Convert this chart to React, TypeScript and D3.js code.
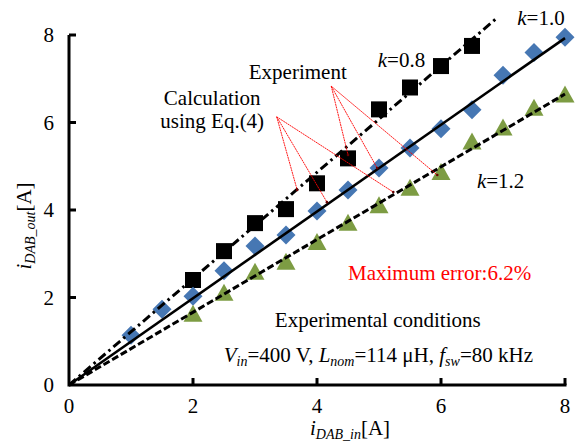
import React from "react";
import * as d3 from "d3";

// ---- data ----
const xTicks = [0, 2, 4, 6, 8];
const yTicks = [0, 2, 4, 6, 8];

const k08X = [2, 2.5, 3, 3.5, 4, 4.5, 5, 5.5, 6, 6.5];
const k08Exp = [2.4, 3.06, 3.7, 4.02, 4.61, 5.18, 6.3, 6.8, 7.29, 7.75];

const k10X = [1, 1.5, 2, 2.5, 3, 3.5, 4, 4.5, 5, 5.5, 6, 6.5, 7, 7.5, 8];
const k10Exp = [1.14, 1.73, 2.03, 2.61, 3.18, 3.43, 3.98, 4.46, 4.96, 5.42, 5.86, 6.29, 7.08, 7.6, 7.95];

const k12X = [2, 2.5, 3, 3.5, 4, 4.5, 5, 5.5, 6, 6.5, 7, 7.5, 8];
const k12Exp = [1.64, 2.12, 2.6, 2.83, 3.28, 3.72, 4.12, 4.52, 4.88, 5.58, 5.9, 6.35, 6.65];

// calculation lines (Eq.(4))
const k08CalcX = [0, 6.92];
const k08CalcY = [0, 8.41];
const k10CalcX = [0, 8];
const k10CalcY = [0, 7.93];
const k12CalcX = [0, 8];
const k12CalcY = [0, 6.65];

// annotation leader lines (data coordinates)
const calcOrigin = [3.35, 6.13];
const calcTargets = [[3.68, 4.46], [4.16, 4.18], [5.23, 4.41]];
const expOrigin = [4.23, 6.83];
const expTargets = [[4.5, 5.26], [4.97, 4.96], [5.94, 4.8]];

const W = 579;
const H = 444;
const left = 69, right = 565, top = 35, bottom = 385;

const FONT = "'Liberation Serif', 'Times New Roman', serif";
const BLUE = "#4677B3";
const GREEN = "#7D9C43";

export default function App() {
  const x = d3.scaleLinear().domain([0, 8]).range([left, right]);
  const y = d3.scaleLinear().domain([0, 8]).range([bottom, top]);
  const line = d3.line<[number, number]>().x(d => x(d[0])).y(d => y(d[1]));

  const zip = (xs: number[], ys: number[]) => xs.map((v, i) => [v, ys[i]] as [number, number]);

  const sq = 16;
  const dia = 9.5;
  const triW = 19, triH = 17;

  return (
    <svg width={W} height={H} style={{ position: "absolute", left: 0, top: 0 }} fontFamily={FONT}>
      <rect width={W} height={H} fill="#fff" />

      {/* markers */}
      {k08X.map((v, i) => (
        <rect key={"s" + i} x={x(v) - sq / 2} y={y(k08Exp[i]) - sq / 2} width={sq} height={sq} fill="#000" />
      ))}
      {k10X.map((v, i) => {
        const cx = x(v), cy = y(k10Exp[i]);
        return (
          <path key={"d" + i} d={`M${cx},${cy - dia}L${cx + dia},${cy}L${cx},${cy + dia}L${cx - dia},${cy}Z`} fill={BLUE} />
        );
      })}
      {k12X.map((v, i) => {
        const cx = x(v), cy = y(k12Exp[i]);
        return (
          <path key={"t" + i} d={`M${cx},${cy - triH / 2}L${cx + triW / 2},${cy + triH / 2}L${cx - triW / 2},${cy + triH / 2}Z`} fill={GREEN} />
        );
      })}

      {/* calculation lines */}
      <path d={line(zip(k08CalcX, k08CalcY)) || ""} stroke="#000" strokeWidth={3} fill="none" strokeDasharray="9,4,2.5,4" />
      <path d={line(zip(k10CalcX, k10CalcY)) || ""} stroke="#000" strokeWidth={2.6} fill="none" />
      <path d={line(zip(k12CalcX, k12CalcY)) || ""} stroke="#000" strokeWidth={3} fill="none" strokeDasharray="7,3" />

      {/* leader lines */}
      {calcTargets.map((t, i) => (
        <g key={"cl" + i}>
          <line x1={x(calcOrigin[0])} y1={y(calcOrigin[1])} x2={x(t[0])} y2={y(t[1])} stroke="#FF0000" strokeWidth={0.9} strokeDasharray="2,0.6" />
          <circle cx={x(t[0])} cy={y(t[1])} r={1.3} fill="#600" />
        </g>
      ))}
      {expTargets.map((t, i) => (
        <g key={"el" + i}>
          <line x1={x(expOrigin[0])} y1={y(expOrigin[1])} x2={x(t[0])} y2={y(t[1])} stroke="#FF0000" strokeWidth={0.9} strokeDasharray="2,0.6" />
          <circle cx={x(t[0])} cy={y(t[1])} r={1.3} fill="#600" />
        </g>
      ))}

      {/* axes */}
      <line x1={left} y1={bottom} x2={right + 1.5} y2={bottom} stroke="#000" strokeWidth={3} />
      <line x1={left} y1={bottom + 1.5} x2={left} y2={top} stroke="#000" strokeWidth={3} />
      {xTicks.filter(t => t > 0).map(t => (
        <line key={"xt" + t} x1={x(t)} x2={x(t)} y1={bottom} y2={bottom - 7} stroke="#000" strokeWidth={3} />
      ))}
      {yTicks.filter(t => t > 0).map(t => (
        <line key={"yt" + t} x1={left} x2={left + 7} y1={y(t)} y2={y(t)} stroke="#000" strokeWidth={3} />
      ))}
      {xTicks.map(t => (
        <text key={"xl" + t} x={x(t)} y={413} textAnchor="middle" fontSize={21} fill="#000">{t}</text>
      ))}
      {yTicks.map(t => (
        <text key={"yl" + t} x={54} y={y(t) + 7} textAnchor="end" fontSize={21} fill="#000">{t}</text>
      ))}

      {/* axis titles */}
      <text x={350} y={435} textAnchor="middle" fontSize={21} fill="#000">
        <tspan fontStyle="italic">i</tspan>
        <tspan fontStyle="italic" fontSize={14} dy={4}>DAB_in</tspan>
        <tspan dy={-4}>[A]</tspan>
      </text>
      <text transform="translate(31,226) rotate(-90)" textAnchor="middle" fontSize={21} fill="#000">
        <tspan fontStyle="italic">i</tspan>
        <tspan fontStyle="italic" fontSize={14} dy={4}>DAB_out</tspan>
        <tspan dy={-4}>[A]</tspan>
      </text>

      {/* annotations */}
      <text x={x(3.69)} y={y(6.99)} textAnchor="middle" fontSize={21}>Experiment</text>
      <text x={x(2.31)} y={y(6.4)} textAnchor="middle" fontSize={21}>Calculation</text>
      <text x={x(2.31)} y={y(5.87)} textAnchor="middle" fontSize={21}>using Eq.(4)</text>

      <text x={x(4.98)} y={y(7.27)} fontSize={21}><tspan fontStyle="italic">k</tspan>=0.8</text>
      <text x={x(7.23)} y={y(8.23)} fontSize={21}><tspan fontStyle="italic">k</tspan>=1.0</text>
      <text x={x(6.58)} y={y(4.5)} fontSize={21}><tspan fontStyle="italic">k</tspan>=1.2</text>

      <text x={x(4.5)} y={y(2.4)} fontSize={21} fill="#FF0000">Maximum error:6.2%</text>

      <text x={x(4.98)} y={y(1.33)} textAnchor="middle" fontSize={21}>Experimental conditions</text>
      <text x={x(4.99)} y={y(0.53)} textAnchor="middle" fontSize={21}>
        <tspan fontStyle="italic">V</tspan>
        <tspan fontStyle="italic" fontSize={14} dy={4}>in</tspan>
        <tspan dy={-4}>=400 V, </tspan>
        <tspan fontStyle="italic">L</tspan>
        <tspan fontStyle="italic" fontSize={14} dy={4}>nom</tspan>
        <tspan dy={-4}>=114 μH, </tspan>
        <tspan fontStyle="italic">f</tspan>
        <tspan fontStyle="italic" fontSize={14} dy={4}>sw</tspan>
        <tspan dy={-4}>=80 kHz</tspan>
      </text>
    </svg>
  );
}
